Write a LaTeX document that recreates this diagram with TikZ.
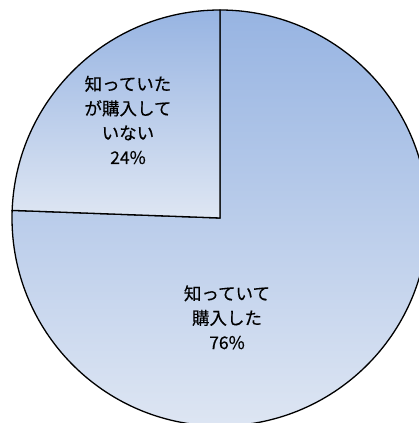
\documentclass[tikz,border=0pt]{standalone}
\usepackage{fontspec}
\newfontfamily\cjk[FakeBold=0.3]{Noto Sans CJK JP}
\definecolor{slicetop}{RGB}{151,180,226}
\definecolor{slicebot}{RGB}{222,230,243}
\begin{document}
\begin{tikzpicture}[x=1pt,y=1pt,
  slice/.style={top color=slicetop,bottom color=slicebot,draw=black,line width=1.3pt,line join=miter},
  lbl/.style={align=center,font=\cjk\fontsize{17.5}{24.5}\selectfont,text=black,inner sep=0pt}]
\fill[white] (0,0) rectangle (419,423);
\useasboundingbox (0,0) rectangle (419,423);
\clip (0,0) rectangle (419,423);
\coordinate (c) at (220,205);
\path[slice] (c) -- ++(177.9:208) arc[start angle=177.9,end angle=450,radius=208] -- cycle;
\path[slice] (c) -- ++(90:208) arc[start angle=90,end angle=177.9,radius=208] -- cycle;
\node[lbl] (small) at (128,303) {知っていた\\が購入して\\いない\\24\%};
\node[lbl] (big) at (227,105.7) {知っていて\\購入した\\76\%};
\end{tikzpicture}
\end{document}
